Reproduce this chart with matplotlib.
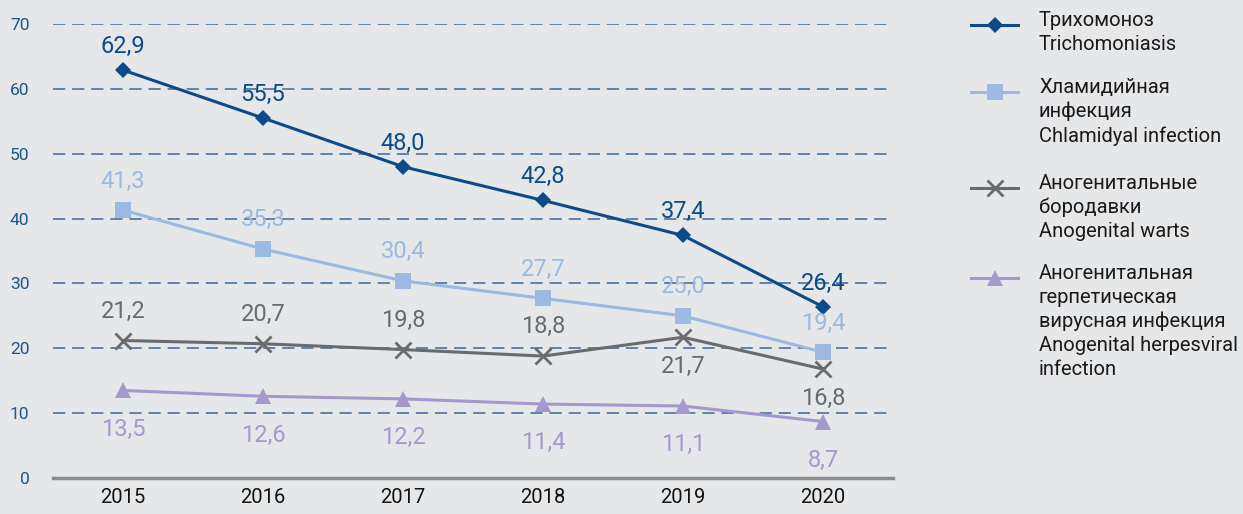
import matplotlib
matplotlib.use("Agg")
import matplotlib.pyplot as plt
from matplotlib.lines import Line2D

plt.rcParams["font.family"] = ["Roboto", "DejaVu Sans"]

# данные
years = ["2015", "2016", "2017", "2018", "2019", "2020"]
trich = [62.9, 55.5, 48.0, 42.8, 37.4, 26.4]
chlam = [41.3, 35.3, 30.4, 27.7, 25.0, 19.4]
warts = [21.2, 20.7, 19.8, 18.8, 21.7, 16.8]
herpes = [13.5, 12.6, 12.2, 11.4, 11.1, 8.7]

names = [
    "Трихомоноз\nTrichomoniasis",
    "Хламидийная\nинфекция\nChlamidyal infection",
    "Аногенитальные\nбородавки\nAnogenital warts",
    "Аногенитальная\nгерпетическая\nвирусная инфекция\nAnogenital herpesviral\ninfection",
]
# сдвиг подписей значений (pt): + над точкой, - под точкой
label_off = {
    0: [17] * 6,
    1: [21] * 6,
    2: [21, 21, 21, 21, -21, -21],
    3: [-28] * 6,
}

colors = ["#0b4a8b", "#9cb9e2", "#6a6b6d", "#a598cc"]
markers = ["D", "s", "x", "^"]
msizes = [8, 12, 11, 11]
BG = "#e6e7e9"

fig = plt.figure(figsize=(12.43, 5.14), dpi=100, facecolor=BG)
ax = fig.add_axes([53 / 1243, 36 / 514, 840 / 1243, 454 / 514], facecolor=BG)

x = list(range(len(years)))
series = [trich, chlam, warts, herpes]
for i, vals in enumerate(series):
    ax.plot(x, vals, color=colors[i], lw=2.2, marker=markers[i], ms=msizes[i],
            mew=2 if markers[i] == "x" else 0, mec=colors[i], zorder=3)
    for xi, v, off in zip(x, vals, label_off[i]):
        ax.annotate(f"{v:.1f}".replace(".", ","), (xi, v), xytext=(0, off),
                    textcoords="offset points", ha="center", va="center",
                    fontsize=17, color=colors[i], zorder=4)

ax.set_xlim(-0.5, 5.5)
ax.set_ylim(0, 70)
ax.set_xticks(x)
ax.set_xticklabels(years, fontsize=14.5, color="#111111")
ax.set_yticks(range(0, 71, 10))
ax.tick_params(axis="y", length=0, pad=17, labelsize=12.5, labelcolor="#1d5590")
ax.tick_params(axis="x", length=0, pad=7)
for t in ax.get_yticklabels():
    t.set_ha("right")

for yv in range(10, 71, 10):
    ax.axhline(yv, color="#3a6899", lw=1.1, dashes=(8, 4.5), zorder=1)
for s in ["left", "right", "top"]:
    ax.spines[s].set_visible(False)
ax.spines["bottom"].set_color("#8c8c8c")
ax.spines["bottom"].set_linewidth(2.5)

# легенда справа
leg_y = [25, 92, 188, 278]
for i, name in enumerate(names):
    yf = 1 - leg_y[i] / 514
    fig.add_artist(Line2D([971 / 1243, 994.5 / 1243, 1018 / 1243], [yf, yf, yf],
                          transform=fig.transFigure, color=colors[i], lw=2.2,
                          marker=markers[i], ms=msizes[i], markevery=[1],
                          mew=2 if markers[i] == "x" else 0, mec=colors[i]))
    fig.text(1039 / 1243, 1 - (leg_y[i] - 14) / 514, name, fontsize=14.5,
             va="top", ha="left", color="#1a1a1a", linespacing=1.32)

fig.savefig("out.png", dpi=100, facecolor=BG)
